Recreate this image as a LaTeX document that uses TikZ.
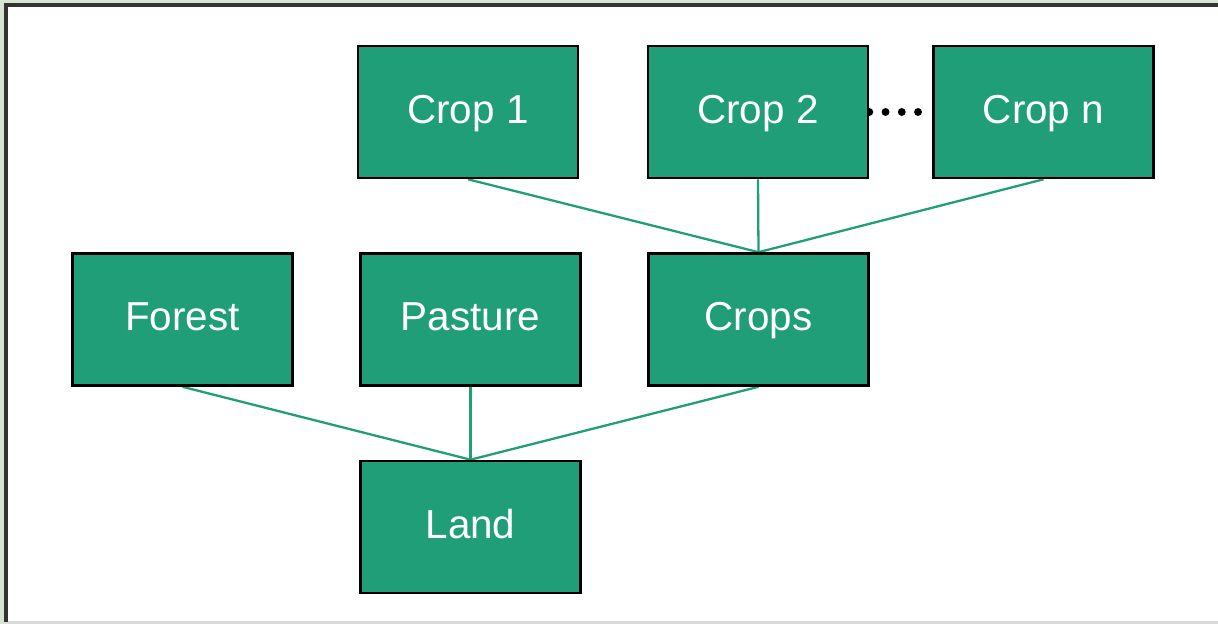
\documentclass[tikz,border=0pt]{standalone}
\usepackage{fontspec}
\setmainfont{Liberation Sans}
\usetikzlibrary{backgrounds}
\definecolor{boxgreen}{HTML}{1F9E78}
\definecolor{edgegreen}{HTML}{D6E4D2}
\tikzset{
  landbox/.style={draw=black, line width=1.5pt, fill=boxgreen, text=white,
    minimum width=4.4cm, minimum height=2.64cm, inner sep=0pt,
    text height=0.6cm, text depth=0.14cm,
    font=\fontsize{23}{28}\selectfont},
  link/.style={draw=boxgreen, line width=1.3pt}
}
\begin{document}
\begin{tikzpicture}[x=0.02cm, y=-0.02cm]
% boxes
\node [landbox] (crop1) at (468,112) {Crop 1};
\node [landbox] (crop2) at (758,112) {Crop 2};
\node [landbox] (cropn) at (1043.5,112) {Crop n};
\node [landbox] (forest) at (182.5,319.5) {Forest};
\node [landbox] (pasture) at (470.5,319.5) {Pasture};
\node [landbox] (crops) at (758.5,319.5) {Crops};
\node [landbox] (land) at (470.5,527) {Land};
\begin{scope}[on background layer]
% frame
\fill [edgegreen] (0,0) rectangle (1218,624);
\fill [white] (4,3) rectangle (1218,622);
\fill [black!80] (4,3) rectangle (8,622);
\fill [black!80] (4,3) rectangle (1218,7);
\fill [black!15] (8,621) rectangle (1218,624);
% links
\draw [link] (crop1.south) to (crops.north);
\draw [link] (crop2.south) to (crops.north);
\draw [link] (cropn.south) to (crops.north);
\draw [link] (forest.south) to (land.north);
\draw [link] (pasture.south) to (land.north);
\draw [link] (crops.south) to (land.north);
\draw [line width=4.5pt, line cap=round, dash pattern=on 0pt off 0.325cm]
  (crop2.east) to (cropn.west);
\end{scope}
\useasboundingbox (0,0) rectangle (1218,624);
\end{tikzpicture}
\end{document}
